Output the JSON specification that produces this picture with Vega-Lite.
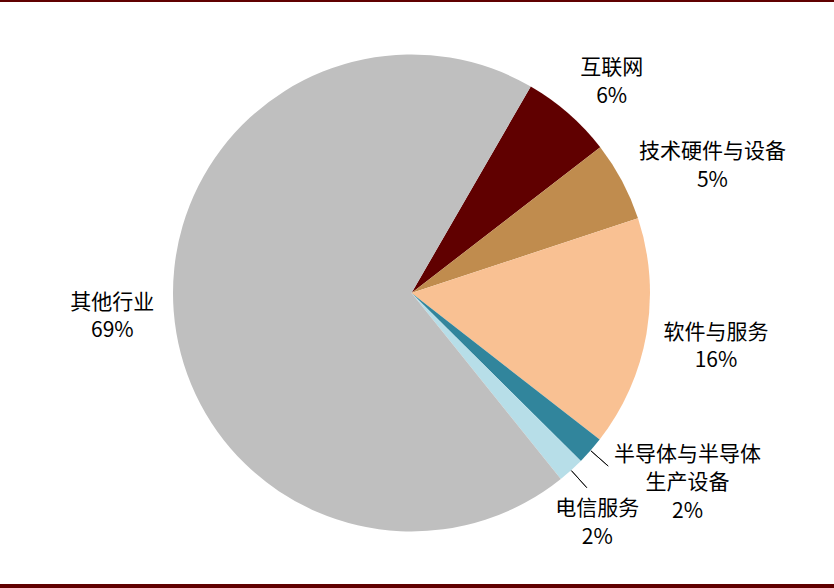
{
  "$schema": "https://vega.github.io/schema/vega-lite/v6.json",
  "width": 845,
  "height": 582,
  "autosize": {"type": "none"},
  "padding": {"left": -11, "top": 2, "right": 0, "bottom": 4},
  "background": "#600000",
  "config": {
    "view": {"stroke": null},
    "text": {"font": "Noto Sans CJK SC", "fontSize": 21, "lineHeight": 28.5, "lineBreak": "\n", "align": "center", "baseline": "middle", "color": "#000000"}
  },
  "data": {
    "values": [
      {"order": 1, "name": "互联网", "value": 6.2},
      {"order": 2, "name": "技术硬件与设备", "value": 5.4},
      {"order": 3, "name": "软件与服务", "value": 15.6},
      {"order": 4, "name": "半导体与半导体\n生产设备", "value": 1.9},
      {"order": 5, "name": "电信服务", "value": 1.8},
      {"order": 6, "name": "其他行业", "value": 69.1}
    ]
  },
  "transform": [
    {"calculate": "datum.name + '\\n' + format(datum.value, '.0f') + '%'", "as": "label"}
  ],
  "encoding": {
    "theta": {"field": "value", "type": "quantitative", "stack": true, "scale": {"range": [0.5236, 6.8068]}},
    "order": {"field": "order", "type": "quantitative"}
  },
  "layer": [
    {
      "mark": {"type": "arc", "outerRadius": 1000, "fill": "#ffffff", "stroke": "#ffffff", "strokeWidth": 3, "clip": true}
    },
    {
      "mark": {"type": "arc", "outerRadius": 238.5},
      "encoding": {
        "color": {
          "field": "name",
          "type": "nominal",
          "scale": {
            "domain": ["互联网", "技术硬件与设备", "软件与服务", "半导体与半导体\n生产设备", "电信服务", "其他行业"],
            "range": ["#600000", "#C08C4E", "#F9C193", "#31859C", "#B7DEE8", "#BFBFBF"]
          },
          "legend": null
        }
      }
    },
    {
      "mark": {"type": "arc", "innerRadius": 239, "outerRadius": 262, "padAngle": 1, "fillOpacity": 0, "stroke": "#000000", "strokeWidth": 0.8},
      "encoding": {
        "strokeOpacity": {"condition": {"test": "datum.order == 4 || datum.order == 5", "value": 1}, "value": 0}
      }
    },
    {
      "mark": {"type": "text", "radius": 292, "dx": 8, "dy": -5},
      "encoding": {"text": {"condition": {"test": "datum.order == 1", "field": "label", "type": "nominal"}, "value": ""}}
    },
    {
      "mark": {"type": "text", "radius": 326, "dx": 13, "dy": 12},
      "encoding": {"text": {"condition": {"test": "datum.order == 2", "field": "label", "type": "nominal"}, "value": ""}}
    },
    {
      "mark": {"type": "text", "radius": 309, "dx": 0, "dy": -13},
      "encoding": {"text": {"condition": {"test": "datum.order == 3", "field": "label", "type": "nominal"}, "value": ""}}
    },
    {
      "mark": {"type": "text", "radius": 333, "dx": 26, "dy": -58},
      "encoding": {"text": {"condition": {"test": "datum.order == 4", "field": "label", "type": "nominal"}, "value": ""}}
    },
    {
      "mark": {"type": "text", "radius": 294, "dx": -11, "dy": -2},
      "encoding": {"text": {"condition": {"test": "datum.order == 5", "field": "label", "type": "nominal"}, "value": ""}}
    },
    {
      "mark": {"type": "text", "radius": 297, "dx": -3, "dy": -13},
      "encoding": {"text": {"condition": {"test": "datum.order == 6", "field": "label", "type": "nominal"}, "value": ""}}
    }
  ]
}
